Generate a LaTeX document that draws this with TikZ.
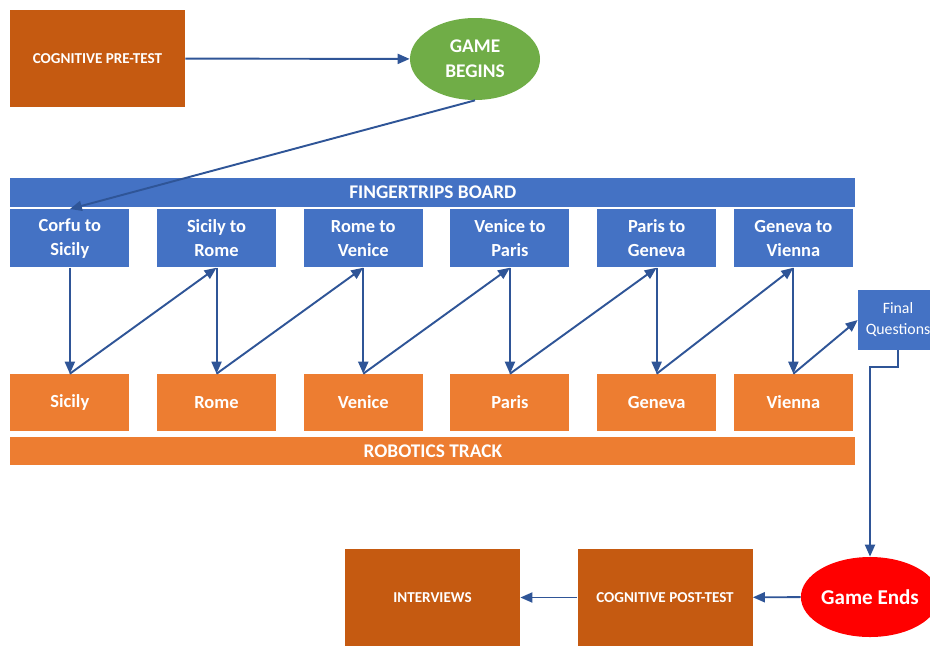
\documentclass[tikz,border=0pt]{standalone}
\usepackage{fontspec}
\setmainfont{Carlito}
\usepackage{tikz}
\usetikzlibrary{arrows.meta, positioning, shapes.geometric}

\definecolor{rustorange}{HTML}{C55A11}
\definecolor{trackorange}{HTML}{ED7D31}
\definecolor{boardblue}{HTML}{4472C4}
\definecolor{startgreen}{HTML}{70AD47}
\definecolor{endred}{HTML}{FF0000}
\definecolor{arrowblue}{HTML}{2F5597}

\begin{document}
\begin{tikzpicture}[
  node distance=21.2mm and 5.4mm,
  stepbox/.style={rectangle, fill=rustorange, text=white, align=center, minimum width=3.5cm, minimum height=1.94cm, font=\fontsize{8.6}{10}\selectfont\bfseries},
  leg/.style={rectangle, fill=boardblue, text=white, align=center, minimum width=2.38cm, minimum height=1.16cm, inner sep=1pt, font=\fontsize{10.5}{13.5}\selectfont\bfseries},
  city/.style={rectangle, fill=trackorange, text=white, align=center, minimum width=2.38cm, minimum height=1.14cm, font=\fontsize{10.5}{13}\selectfont\bfseries},
  bar/.style={rectangle, text=white, minimum width=16.9cm, minimum height=0.57cm, inner sep=0pt, font=\fontsize{11}{13}\selectfont\bfseries},
  oval/.style={ellipse, text=white, align=center, inner sep=0pt},
  arrow/.style={-{Triangle[length=2.4mm, width=2mm]}, line width=1.1pt, draw=arrowblue}
]
\useasboundingbox (0,0) rectangle (18.6,-12.9);

% start of the game
\node[stepbox] (pre) at (1.95,-1.17) {COGNITIVE PRE-TEST};
\node[oval, fill=startgreen, minimum width=2.6cm, minimum height=1.64cm, font=\fontsize{11}{14}\selectfont\bfseries] (begins) at (9.5,-1.18) {GAME\\BEGINS};

% fingertrips board legs
\node[leg, anchor=north west] (cs) at (0.2,-4.18) {Corfu to\\Sicily};
\node[leg, right=of cs] (sr) {Sicily to\\Rome};
\node[leg, right=of sr] (rv) {Rome to\\Venice};
\node[leg, right=of rv] (vp) {Venice to\\Paris};
\node[leg, right=of vp] (pg) {Paris to\\Geneva};
\node[leg, right=3.4mm of pg] (gv) {Geneva to\\Vienna};
\node[bar, fill=boardblue, anchor=south west] (board) at ([yshift=0.04cm]cs.north west) {FINGERTRIPS BOARD};

% robotics track cities
\node[city, below=of cs] (sicily) {Sicily};
\node[city, below=of sr] (rome) {Rome};
\node[city, below=of rv] (venice) {Venice};
\node[city, below=of vp] (paris) {Paris};
\node[city, below=of pg] (geneva) {Geneva};
\node[city, below=of gv] (vienna) {Vienna};
\node[bar, fill=trackorange, anchor=north west] (track) at ([yshift=-0.1cm]sicily.south west) {ROBOTICS TRACK};

\node[rectangle, fill=boardblue, text=white, align=center, minimum width=1.6cm, minimum height=1.2cm, inner sep=1pt, font=\fontsize{9}{12}\selectfont] (final) at (17.96,-6.4) {Final\\Questions};

% end of the game
\node[oval, fill=endred, minimum width=2.5cm, minimum height=1.6cm, font=\fontsize{12}{14}\selectfont\bfseries] (ends) at (17.4,-11.94) {Game Ends};
\node[stepbox] (post) at (13.3,-11.95) {COGNITIVE POST-TEST};
\node[stepbox] (interviews) at (8.65,-11.95) {INTERVIEWS};

\draw[arrow] (pre) -- (begins);
\draw[arrow] (begins.south) -- (cs.north);
\draw[arrow] (cs) -- (sicily);
\draw[arrow] (sicily.north) -- (sr.south);
\draw[arrow] (sr) -- (rome);
\draw[arrow] (rome.north) -- (rv.south);
\draw[arrow] (rv) -- (venice);
\draw[arrow] (venice.north) -- (vp.south);
\draw[arrow] (vp) -- (paris);
\draw[arrow] (paris.north) -- (pg.south);
\draw[arrow] (pg) -- (geneva);
\draw[arrow] (geneva.north) -- (gv.south);
\draw[arrow] (gv) -- (vienna);
\draw[arrow] (vienna.north) -- (final.west);
\draw[arrow] (final.south) -- ++(0,-0.34) -| (ends.north);
\draw[arrow] (ends) -- (post);
\draw[arrow] (post) -- (interviews);
\end{tikzpicture}
\end{document}
